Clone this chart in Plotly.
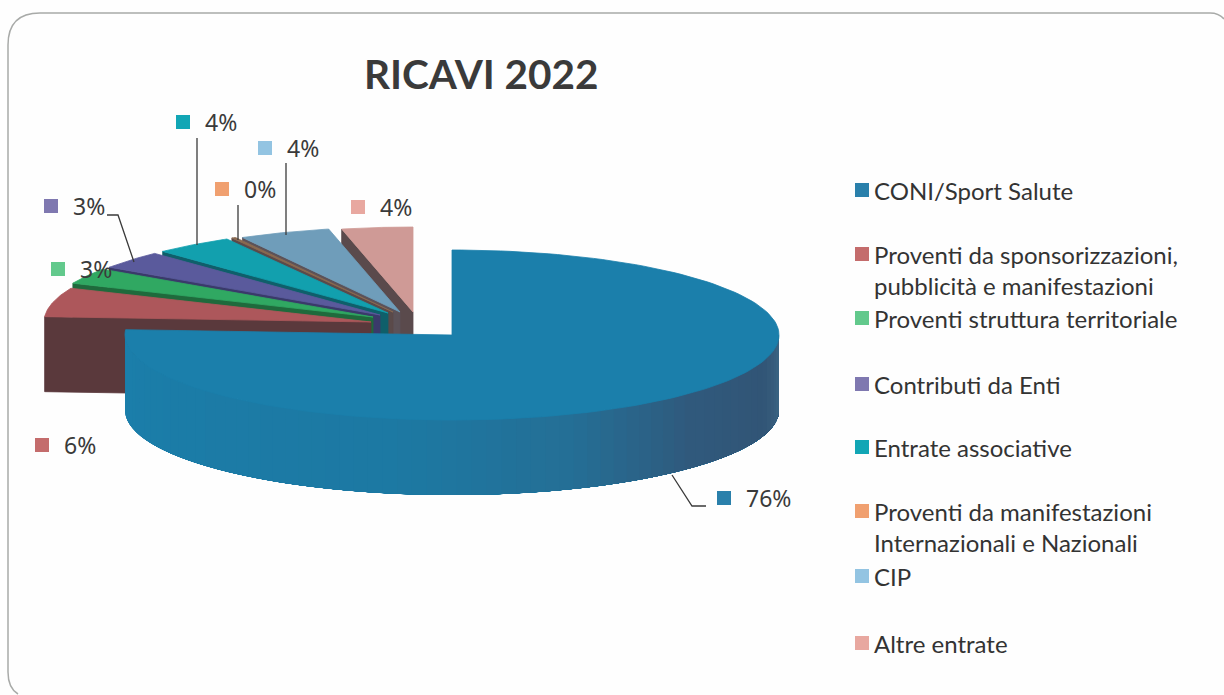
import math
import plotly.graph_objects as go

# ---- data ----
categories = ["CONI/Sport Salute",
              "Proventi da sponsorizzazioni,<br>pubblicità e manifestazioni",
              "Proventi struttura territoriale",
              "Contributi da Enti",
              "Entrate associative",
              "Proventi da manifestazioni<br>Internazionali e Nazionali",
              "CIP",
              "Altre entrate"]
shares = [76.0, 5.5, 3.0, 3.4, 3.9, 0.2, 4.5, 3.5]
title_text = "RICAVI 2022"

# ---- style ----
top_colors = ["#1b7fab", "#ad575b", "#30a862", "#5a5a9c", "#12a0ae", "#8a6a50", "#6f9dba", "#cf9a96"]
wall_colors = ["#2a6488", "#5a393c", "#1f6a3c", "#3a3a6a", "#0f5f6a", "#5a4a4a", "#5c5258", "#5a4a4c"]
key_colors = ["#2a80ab", "#c46c6c", "#62c98c", "#7f78b0", "#12a6b5", "#f0a070", "#93c4e2", "#e8a8a0"]
apex_x = [452, 371, 373, 380, 388, 393, 400, 413]
apex_y = [335, 322, 317, 315, 313, 312, 312, 312]
RX, RY, DEPTH = 327, 85, 75

label_key_x = [724, 42, 58, 51, 183, 222, 265, 358]
label_key_y = [498, 445, 269, 206, 122, 189, 148, 207]
legend_key_y = [190, 254, 318, 384, 447, 511, 576, 643]
legend_text_y = [190, 269.5, 318, 384, 447, 526.5, 576, 643]

leaders = [([672, 692, 706], [475, 506, 506]),
           ([107, 118, 134], [215, 215, 262]),
           ([197, 197], [138, 245]),
           ([238, 238], [205, 240]),
           ([286, 286], [163, 235])]

main_wall_stops = [(270, (27, 127, 171)), (190, (29, 121, 163)), (160, (37, 111, 150)),
                   (135, (48, 90, 125)), (110, (50, 85, 118)), (90, (62, 105, 135))]


def rim(cx, cy, a0, a1, n=60):
    pts = []
    for i in range(n + 1):
        a = math.radians(a0 + (a1 - a0) * i / n)
        pts.append((cx + RX * math.sin(a), cy - RY * math.cos(a)))
    return pts


def poly(fig, pts, color, width=0.8):
    fig.add_trace(go.Scatter(x=[p[0] for p in pts] + [pts[0][0]],
                             y=[p[1] for p in pts] + [pts[0][1]],
                             mode="lines", fill="toself", fillcolor=color,
                             line=dict(color=color, width=width),
                             hoverinfo="skip", showlegend=False))


def wall_color(a):
    a = max(min(a, main_wall_stops[0][0]), main_wall_stops[-1][0])
    for (a0, c0), (a1, c1) in zip(main_wall_stops, main_wall_stops[1:]):
        if a1 <= a <= a0:
            t = (a0 - a) / (a0 - a1)
            return "rgb(%d,%d,%d)" % tuple(c0[k] + (c1[k] - c0[k]) * t for k in range(3))
    return "rgb(27,127,171)"


fig = go.Figure()

# slice angles, clockwise from twelve o'clock
total = sum(shares)
starts, ends = [], []
acc = 0.0
for s in shares:
    starts.append(acc / total * 360)
    acc += s
    ends.append(acc / total * 360)

# exploded small slices, back to front
for i in range(len(shares) - 1, 0, -1):
    cx, cy = apex_x[i], apex_y[i]
    a0, a1 = starts[i], ends[i]
    p0 = rim(cx, cy, a0, a0, 1)[0]
    # radial wall on the leading edge
    poly(fig, [(cx, cy), p0, (p0[0], p0[1] + DEPTH), (cx, cy + DEPTH)], wall_colors[i])
    poly(fig, [(cx, cy)] + rim(cx, cy, a0, a1), top_colors[i])

# main slice: outer wall painted in overlapping bands, then the top face over it
cx, cy = apex_x[0], apex_y[0]
n_seg = 70
for k in range(n_seg):
    a0 = ends[0] + (90 - ends[0]) * k / n_seg
    upper = rim(cx, cy, a0, 90, 90)
    lower = [(x, y + DEPTH) for x, y in reversed(upper)]
    poly(fig, upper + lower, wall_color(a0), width=0)
poly(fig, [(cx, cy)] + rim(cx, cy, 0, ends[0], 160), top_colors[0])

# leader lines
for lx, ly in leaders:
    fig.add_trace(go.Scatter(x=lx, y=ly, mode="lines", line=dict(color="#3a3a3a", width=1.3),
                             hoverinfo="skip", showlegend=False))

# data-label keys and legend keys
fig.add_trace(go.Scatter(x=label_key_x, y=label_key_y, mode="markers",
                         marker=dict(symbol="square", size=14, color=key_colors),
                         hoverinfo="skip", showlegend=False))
fig.add_trace(go.Scatter(x=[862] * len(categories), y=legend_key_y, mode="markers",
                         marker=dict(symbol="square", size=14, color=key_colors),
                         hoverinfo="skip", showlegend=False))

annotations = [dict(x=481.5, y=73, text="<b>%s</b>" % title_text, showarrow=False, xanchor="center",
                    yanchor="middle", font=dict(family="Lato", size=40.5, color="#3a3a3a"))]
for i, s in enumerate(shares):
    annotations.append(dict(x=label_key_x[i] + 20, y=label_key_y[i], text="%d%%" % round(s),
                            showarrow=False, xanchor="left", yanchor="middle",
                            font=dict(family="Noto Sans", size=23, color="#3a3a3a")))
    annotations.append(dict(x=872, y=legend_text_y[i], text=categories[i], align="left",
                            showarrow=False, xanchor="left", yanchor="middle",
                            font=dict(family="Lato", size=24, color="#333333")))

fig.update_layout(
    width=1224, height=695, margin=dict(l=0, r=0, t=0, b=0),
    paper_bgcolor="#fefefe", plot_bgcolor="#fefefe",
    xaxis=dict(range=[0, 1224], visible=False, fixedrange=True),
    yaxis=dict(range=[695, 0], visible=False, fixedrange=True),
    annotations=annotations,
    shapes=[dict(type="path", line=dict(color="#a8aaa8", width=1.5),
                 path="M 1224 19 Q 1219 13 1210 13 L 40 13 Q 8 13 8 45 L 8 672 Q 8 688 18 694")],
)

fig.write_html("out.html", config={"displayModeBar": False},
               post_script="document.body.style.margin='0';document.body.style.overflow='hidden';")
